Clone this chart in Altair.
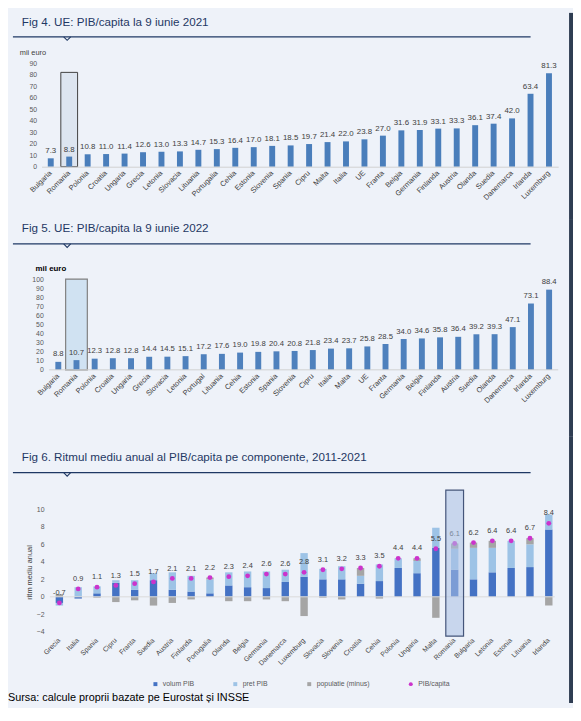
import altair as alt
import pandas as pd

FONT = "Liberation Sans"
BG = "#eef2f9"
NAVY = "#1f3864"
BORDER = "#2f3d52"
TXT = "#404040"

# ---------------- Fig 4 data ----------------
countries_2021 = ["Bulgaria", "Romania", "Polonia", "Croatia", "Ungaria", "Grecia", "Letonia",
                  "Slovacia", "Lituania", "Portugalia", "Cehia", "Estonia", "Slovenia", "Spania",
                  "Cipru", "Malta", "Italia", "UE", "Franta", "Belgia", "Germania", "Finlanda",
                  "Austria", "Olanda", "Suedia", "Danemarca", "Irlanda", "Luxemburg"]
values_2021 = [7.3, 8.8, 10.8, 11.0, 11.4, 12.6, 13.0, 13.3, 14.7, 15.3, 16.4, 17.0, 18.1, 18.5,
               19.7, 21.4, 22.0, 23.8, 27.0, 31.6, 31.9, 33.1, 33.3, 36.1, 37.4, 42.0, 63.4, 81.3]
ticks_4 = [0, 10, 20, 30, 40, 50, 60, 70, 80, 90]

# ---------------- Fig 5 data ----------------
countries_2022 = ["Bulgaria", "Romania", "Polonia", "Croatia", "Ungaria", "Grecia", "Slovacia",
                  "Letonia", "Portugal", "Lituania", "Cehia", "Estonia", "Spania", "Slovenia",
                  "Cipru", "Italia", "Malta", "UE", "Franta", "Germania", "Belgia", "Finlanda",
                  "Austria", "Suedia", "Olanda", "Danemarca", "Irlanda", "Luxemburg"]
values_2022 = [8.8, 10.7, 12.3, 12.8, 12.8, 14.4, 14.5, 15.1, 17.2, 17.6, 19.0, 19.8, 20.4, 20.8,
               21.8, 23.4, 23.7, 25.8, 28.5, 34.0, 34.6, 35.8, 36.4, 39.2, 39.3, 47.1, 73.1, 88.4]
ticks_5 = [0, 10, 20, 30, 40, 50, 60, 70, 80, 90, 100]

# ---------------- Fig 6 data ----------------
countries_6 = ["Grecia", "Italia", "Spania", "Cipru", "Franta", "Suedia", "Austria", "Finlanda",
               "Portugalia", "Olanda", "Belgia", "Germania", "Danemarca", "Luxemburg", "Slovacia",
               "Slovenia", "Croatia", "Cehia", "Polonia", "Ungaria", "Malta", "Romania",
               "Bulgaria", "Letonia", "Estonia", "Lituania", "Irlanda"]
volum_pib = [-0.7, -0.2, 0.4, 1.6, 0.8, 1.9, 0.8, 0.6, 0.4, 1.3, 1.1, 1.0, 1.7, 2.3, 2.0,
             2.0, 1.5, 1.8, 3.3, 2.7, 5.6, 3.1, 2.0, 2.8, 3.3, 3.4, 7.7]
pret_pib = [-0.3, 1.1, 0.8, 0.3, 1.1, 0.8, 2.0, 1.8, 1.6, 1.5, 1.8, 1.9, 1.4, 2.7, 1.2,
            1.5, 0.9, 1.9, 1.1, 1.4, 2.3, 2.4, 3.6, 2.8, 3.1, 2.6, 1.7]
populatie_minus = [0.3, 0.0, -0.1, -0.6, -0.4, -1.0, -0.7, -0.3, 0.2, -0.5, -0.5, -0.3, -0.5,
                   -2.2, -0.1, -0.3, 0.9, -0.2, 0.0, 0.3, -2.4, 0.6, 0.6, 0.8, 0.0, 0.7, -1.0]
pib_capita = [-0.7, 0.9, 1.1, 1.3, 1.5, 1.7, 2.1, 2.1, 2.2, 2.3, 2.4, 2.6, 2.6, 2.8, 3.1,
              3.2, 3.3, 3.5, 4.4, 4.4, 5.5, 6.1, 6.2, 6.4, 6.4, 6.7, 8.4]
ticks_6 = [-4, -2, 0, 2, 4, 6, 8, 10]
components = ["volum PIB", "pret PIB", "populatie (minus)", "PIB/capita"]
comp_colors = ["#4472c4", "#9dc3e6", "#a5a5a5", "#cc33cc"]

one = pd.DataFrame({"k": [0]})

# all plot areas start at the same x (page x 42); positions below are relative to it
PX0, PX1 = -34, 539


def deco(py0, py1, title, ty, ry):
    bg = alt.Chart(one).mark_rect(color=BG).encode(
        x=alt.value(PX0), x2=alt.value(PX1 - 4), y=alt.value(py0), y2=alt.value(py1))
    border = alt.Chart(one).mark_rect(color=BORDER).encode(
        x=alt.value(PX1 - 4), x2=alt.value(PX1), y=alt.value(py0), y2=alt.value(py1))
    ttl = alt.Chart(one).mark_text(align="left", baseline="alphabetic", fontSize=11.8,
                                   color=NAVY, font=FONT).encode(
        x=alt.value(-20), y=alt.value(ty), text=alt.value(title))
    rule = alt.Chart(one).mark_rule(color=NAVY, strokeWidth=1.2).encode(
        x=alt.value(-29), x2=alt.value(496), y=alt.value(ry))
    notch = alt.Chart(one).mark_point(shape="M-1,0L0,1L1,0", filled=False, color=NAVY,
                                      strokeWidth=1.1, size=50, opacity=1).encode(
        x=alt.value(26), y=alt.value(ry))
    return [bg, border, ttl, rule, notch]


def xaxis(pad, size, domain=True):
    return alt.Axis(labelAngle=-45, labelAlign="right", labelBaseline="middle",
                    labelFontSize=size, labelColor=TXT, labelPadding=pad, ticks=False,
                    domain=domain, domainColor="#d0d0d0", title=None, labelOverlap=False,
                    zindex=1)


def yaxis(values, pad, offset=0):
    return alt.Axis(values=values, grid=False, domain=False, ticks=False, labelFontSize=7,
                    labelColor="#595959", labelPadding=pad, offset=offset, title=None,
                    labelOverlap=False, zindex=1)


# ---------------- Panel 1 (Fig 4) ----------------
df4 = pd.DataFrame({"tara": countries_2021, "v": values_2021,
                    "lbl": [f"{v:.1f}" for v in values_2021]})
box4 = pd.DataFrame({"tara": ["Romania"], "y0": [0], "y1": [82]})
x4 = alt.X("tara:N", sort=countries_2021,
           scale=alt.Scale(domain=countries_2021, paddingInner=0, paddingOuter=0),
           axis=xaxis(5, 7.5))
yscale4 = alt.Scale(domain=[0, 90], nice=False)
yax4 = yaxis(ticks_4, 5)
y4 = alt.Y("v:Q", scale=yscale4, axis=yax4)
p1_layers = deco(-51, 159, "Fig 4. UE: PIB/capita la 9 iunie 2021", -37.3, -26.7)
p1_layers += [
    alt.Chart(one).mark_text(align="left", baseline="middle", fontSize=7.5, color=TXT).encode(
        x=alt.value(-22), y=alt.value(-10.7), text=alt.value("mii euro")),
    alt.Chart(box4).mark_bar(size=17, fill="#dde5f0", stroke="#404040", strokeWidth=1).encode(
        x=x4, y=alt.Y("y1:Q", scale=yscale4, axis=yax4), y2="y0:Q"),
    alt.Chart(df4).mark_bar(size=6, color="#4a7ebb").encode(x=x4, y=y4),
    alt.Chart(df4).mark_text(baseline="middle", dy=-7, fontSize=8, color=TXT).encode(
        x=x4, y=y4, text="lbl:N"),
]
p1 = alt.layer(*p1_layers).properties(width=524, height=105)

# ---------------- Panel 2 (Fig 5) ----------------
df5 = pd.DataFrame({"tara": countries_2022, "v": values_2022,
                    "lbl": [f"{v:.1f}" for v in values_2022]})
box5 = pd.DataFrame({"tara": ["Romania"], "y0": [0], "y1": [100]})
x5 = alt.X("tara:N", sort=countries_2022,
           scale=alt.Scale(domain=countries_2022, paddingInner=0, paddingOuter=0.2115,
                           align=1),
           axis=xaxis(5, 7.5, domain=False))
yscale5 = alt.Scale(domain=[0, 100], nice=False)
yax5 = yaxis(ticks_5, 6, offset=-7.8)
y5 = alt.Y("v:Q", scale=yscale5, axis=yax5)
p2_layers = deco(-60, 160, "Fig 5. UE: PIB/capita la 9 iunie 2022", -47.3, -35.7)
p2_layers += [
    alt.Chart(one).mark_text(align="left", baseline="middle", fontSize=8, fontWeight="bold",
                             color="#000000").encode(
        x=alt.value(-6), y=alt.value(-10.7), text=alt.value("mil euro")),
    alt.Chart(box5).mark_bar(size=22, fill="#d0e2f2", stroke="#808080", strokeWidth=1.2).encode(
        x=x5, y=alt.Y("y1:Q", scale=yscale5, axis=yax5), y2="y0:Q"),
    alt.Chart(df5).mark_bar(size=6, color="#4f81bd").encode(x=x5, y=y5),
    alt.Chart(df5).mark_text(baseline="middle", dy=-7.5, fontSize=7.8, color=TXT).encode(
        x=x5, y=y5, text="lbl:N"),
    alt.Chart(one).mark_rule(color="#d0d0d0", strokeWidth=1).encode(
        y=alt.datum(0, scale=yscale5, axis=yax5), x=alt.value(7.8), x2=alt.value(524)),
]
p2 = alt.layer(*p2_layers).properties(width=524, height=92)

# ---------------- Panel 3 (Fig 6) ----------------
rows = []
for i, c in enumerate(countries_6):
    rows.append({"tara": c, "comp": "volum PIB", "v": volum_pib[i], "ord": 0})
    rows.append({"tara": c, "comp": "pret PIB", "v": pret_pib[i], "ord": 1})
    rows.append({"tara": c, "comp": "populatie (minus)", "v": populatie_minus[i], "ord": 2})
df6 = pd.DataFrame(rows)
dfp = pd.DataFrame({"tara": countries_6, "v": pib_capita, "comp": "PIB/capita",
                    "lbl": [f"{v:.1f}" for v in pib_capita]})
box6 = pd.DataFrame({"tara": ["Romania"], "y0": [-4.5], "y1": [12.2]})

x6 = alt.X("tara:N", sort=countries_6,
           scale=alt.Scale(domain=countries_6, paddingInner=0, paddingOuter=0.224, align=1),
           axis=xaxis(2, 7, domain=False))
yscale6 = alt.Scale(domain=[-4.6, 12.2], nice=False, zero=False)
yaxis6 = alt.Axis(values=ticks_6, grid=False, domain=False, ticks=False, labelFontSize=7,
                  labelColor="#595959", labelPadding=6, offset=-8.5, zindex=1,
                  labelOverlap=False,
                  title="ritm mediu anual", titleFontSize=7.5, titleFontWeight="normal",
                  titleColor=TXT, titleX=-21, titleY=83, titleAngle=270,
                  titleBaseline="middle", titleAlign="center")
legend6 = alt.Legend(orient="none", legendX=112, legendY=193, direction="horizontal",
                     columns=4, title=None, symbolSize=16, labelFontSize=7,
                     labelColor="#595959", columnPadding=38, symbolStrokeWidth=0)
cscale = alt.Scale(domain=components, range=comp_colors)
sscale = alt.Scale(domain=components, range=["square", "square", "square", "circle"])

p3_layers = deco(-54, 216,
                 "Fig 6. Ritmul mediu anual al PIB/capita pe componente, 2011-2021",
                 -29.3, -17.7)
p3_layers += [
    alt.Chart(df6).mark_bar(size=7.5).encode(
        x=x6,
        y=alt.Y("v:Q", stack="zero", scale=yscale6, axis=yaxis6),
        color=alt.Color("comp:N", scale=cscale, legend=legend6),
        order=alt.Order("ord:Q")),
    alt.Chart(one).mark_rule(color="#d9d9d9", strokeWidth=1).encode(
        y=alt.datum(0, scale=yscale6, axis=yaxis6), x=alt.value(8.5), x2=alt.value(520.5)),
    alt.Chart(dfp).mark_point(filled=True, size=24, opacity=1).encode(
        x=x6, y=alt.Y("v:Q", scale=yscale6, axis=yaxis6),
        color=alt.Color("comp:N", scale=cscale, legend=legend6),
        shape=alt.Shape("comp:N", scale=sscale, legend=legend6)),
    alt.Chart(dfp).mark_text(baseline="middle", dy=-10, fontSize=7.5, color=TXT).encode(
        x=x6, y=alt.Y("v:Q", scale=yscale6, axis=yaxis6), text="lbl:N"),
    alt.Chart(box6).mark_bar(size=18, fill="#a9bfe4", fillOpacity=0.55, stroke="#44557a",
                             strokeWidth=1.2).encode(
        x=x6, y=alt.Y("y1:Q", scale=yscale6, axis=yaxis6), y2="y0:Q"),
    alt.Chart(one).mark_text(align="left", baseline="middle", fontSize=11,
                             color="#000000").encode(
        x=alt.value(-34), y=alt.value(210.5),
        text=alt.value("Sursa: calcule proprii bazate pe Eurostat și INSSE")),
]
p3 = alt.layer(*p3_layers).properties(width=524, height=149)

chart = (
    alt.vconcat(p1, p2, p3, spacing=0)
    .resolve_legend(color="independent", shape="independent")
    .properties(padding=0, background=BG)
    .configure(font=FONT)
    .configure_view(stroke=None)
)

chart.save("out.html", embed_options={"renderer": "svg", "actions": False})
